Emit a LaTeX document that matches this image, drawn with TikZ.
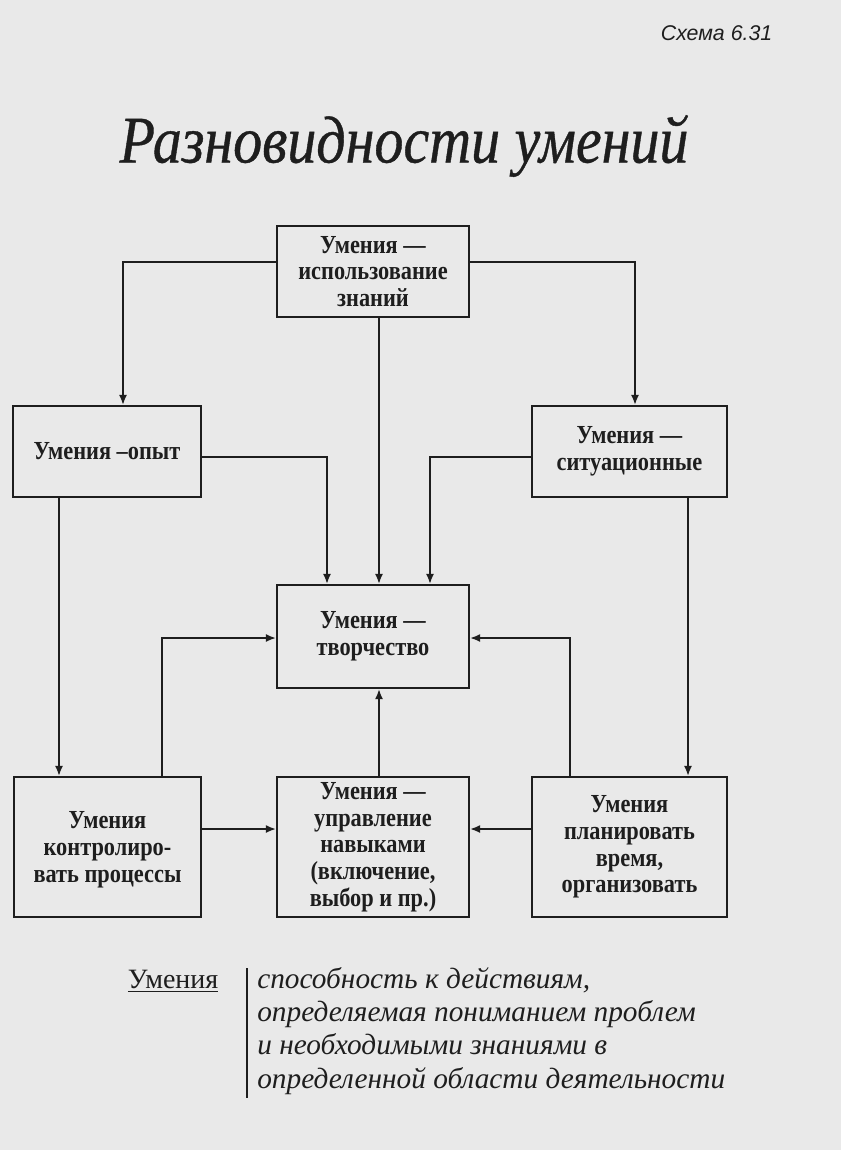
\documentclass[tikz,border=0pt]{standalone}
\usepackage{fontspec}
\setmainfont{Liberation Serif}
\newfontfamily\boxfont[FakeStretch=0.86]{Liberation Serif}
\newfontfamily\titlefont[FakeStretch=0.87,FakeBold=0.6]{Liberation Serif}
\newfontfamily\deffont{Liberation Serif}
\newfontfamily\schemefont{Liberation Sans}
\usetikzlibrary{arrows.meta}
\definecolor{paper}{HTML}{E9E9E9}
\definecolor{ink}{HTML}{1E1E1E}
\tikzset{
  box/.style={draw=ink, line width=1.7pt, fill=none, align=center, inner sep=2pt,
    font=\boxfont\bfseries\fontsize{19.5}{20}\selectfont, text=ink},
  arr/.style={draw=ink, line width=1.2pt, -{Latex[length=7.5pt,width=6pt]}},
}
\begin{document}
\begin{tikzpicture}[x=0.75pt,y=-0.75pt]
\fill[paper] (0,0) rectangle (841,1150);
\useasboundingbox (0,0) rectangle (841,1150);

\node[font=\schemefont\itshape\fontsize{16}{16}\selectfont, text=ink, anchor=east] (scheme) at (777,33) {Схема 6.31};
\node[font=\titlefont\itshape\fontsize{50}{50}\selectfont, text=ink] (title) at (404,146) {Разновидности умений};

\node[box, minimum width=144pt, minimum height=68.25pt] (top) at (373,271.5) {Умения —\\использование\\знаний};
\node[box, minimum width=141pt, minimum height=68.25pt] (opyt) at (107,451.5) {Умения –опыт};
\node[box, minimum width=146.25pt, minimum height=68.25pt] (sit) at (629.5,451.5) {Умения —\\ситуационные};
\node[box, minimum width=144pt, minimum height=77.25pt] (tvor) at (373,636.5) {Умения —\\творчество};
\node[box, minimum width=140.25pt, minimum height=105pt, text depth=0pt] (bl) at (107.5,847) {Умения\\контролиро-\\вать процессы};
\node[box, minimum width=144pt, minimum height=105pt] (bm) at (373,847) {Умения —\\управление\\навыками\\(включение,\\выбор и пр.)};
\node[box, minimum width=146.25pt, minimum height=105pt] (br) at (629.5,847) {Умения\\планировать\\время,\\организовать};

\coordinate (hA) at (0,262);
\coordinate (hB) at (0,457);
\coordinate (hC) at (0,638);
\coordinate (hD) at (0,829);
\coordinate (xL1) at (123,0);
\coordinate (xR1) at (635,0);
\coordinate (xT1) at (327,0);
\coordinate (xM) at (379,0);
\coordinate (xT3) at (430,0);
\coordinate (xL2) at (59,0);
\coordinate (xR2) at (688,0);
\coordinate (xL3) at (162,0);
\coordinate (xR3) at (570,0);

\draw[arr] (top.west |- hA) -| (xL1 |- opyt.north);
\draw[arr] (top.east |- hA) -| (xR1 |- sit.north);
\draw[arr] (xM |- top.south) -- (xM |- tvor.north);
\draw[arr] (opyt.east |- hB) -| (xT1 |- tvor.north);
\draw[arr] (sit.west |- hB) -| (xT3 |- tvor.north);
\draw[arr] (xL2 |- opyt.south) -- (xL2 |- bl.north);
\draw[arr] (xR2 |- sit.south) -- (xR2 |- br.north);
\draw[arr] (xL3 |- bl.north) |- (tvor.west |- hC);
\draw[arr] (xR3 |- br.north) |- (tvor.east |- hC);
\draw[arr] (xM |- bm.north) -- (xM |- tvor.south);
\draw[arr] (bl.east |- hD) -- (bm.west |- hD);
\draw[arr] (br.west |- hD) -- (bm.east |- hD);

\node[font=\deffont\fontsize{21}{21}\selectfont, text=ink, anchor=east] (term) at (223,981) {\underline{Умения}};
\coordinate (barT) at (247,968);
\coordinate (barB) at (247,1098);
\draw[ink, line width=0.8pt] (barT) -- (barB);
\node[font=\deffont\itshape\fontsize{22}{25}\selectfont, text=ink, anchor=north west, align=left, inner sep=0pt] (def) at (257,967)
  {способность к действиям,\\определяемая пониманием проблем\\и необходимыми знаниями в\\определенной области деятельности};
\end{tikzpicture}
\end{document}
